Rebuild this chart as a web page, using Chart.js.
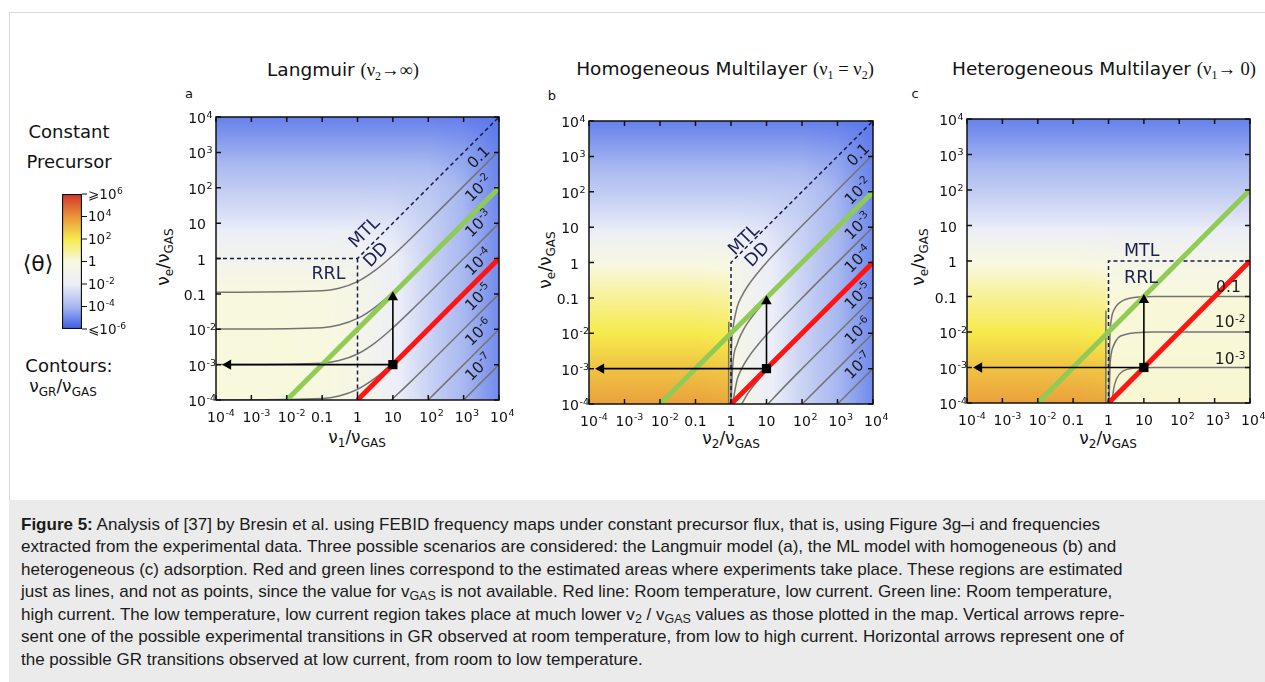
<!DOCTYPE html>
<html>
<head>
<meta charset="utf-8">
<script src="https://cdn.jsdelivr.net/npm/chart.js@4.4.1/dist/chart.umd.min.js"></script>
<style>
  body { margin: 0; width: 1265px; height: 682px; position: relative; background: #fff; overflow: hidden;
         font-family: "DejaVu Sans", Verdana, sans-serif; color: #111; }
  .abs { position: absolute; white-space: nowrap; }
  .c { transform: translate(-50%, -50%); }
  .rot { transform: translate(-50%, -50%) rotate(-90deg); }
  .serif { font-family: "Liberation Serif", "DejaVu Serif", serif; }
  sub { font-size: 12px; vertical-align: -4px; line-height: 0; }
  .title { font-size: 18.5px; }
  .axt { font-size: 17px; }
  .letter { font-size: 13px; }
  #frameTop { position: absolute; left: 9px; top: 12px; right: 0; height: 1px; background: #d9d9d9; }
  #frameLeft { position: absolute; left: 9px; top: 12px; width: 1px; bottom: 0; background: #d9d9d9; }
  #caption { position: absolute; left: 9px; top: 500px; width: 1256px; height: 182px; background: #ebebeb;
             font-family: "Liberation Sans", Arial, sans-serif; font-size: 17px; line-height: 22.5px;
             color: #1a1a1a; padding: 13.5px 0 0 12px; box-sizing: border-box; white-space: nowrap; }
  #caption sub { font-size: 12.5px; vertical-align: -3px; }
  canvas { position: absolute; }
</style>
</head>
<body>
<div id="frameTop"></div><div id="frameLeft"></div>

<div class="abs c" style="left:69px;top:131px;font-size:18px">Constant</div>
<div class="abs c" style="left:69px;top:161px;font-size:18px">Precursor</div>
<div class="abs c" style="left:38px;top:263px;font-size:22px">⟨θ⟩</div>
<div class="abs c" style="left:69px;top:365px;font-size:18px">Contours:</div>
<div class="abs c" style="left:63px;top:386px;font-size:17px">ν<sub>GR</sub>/ν<sub>GAS</sub></div>

<div class="abs c title" style="left:343px;top:70px">Langmuir <span class="serif">(ν<sub>2</sub>→∞)</span></div>
<div class="abs c title" style="left:725px;top:69px">Homogeneous Multilayer <span class="serif">(ν<sub>1</sub> = ν<sub>2</sub>)</span></div>
<div class="abs c title" style="left:1104px;top:69px">Heterogeneous Multilayer <span class="serif">(ν<sub>1</sub>→ 0)</span></div>

<div class="abs c letter" style="left:189px;top:93px">a</div>
<div class="abs c letter" style="left:552px;top:95px">b</div>
<div class="abs c letter" style="left:915px;top:93px">c</div>

<div class="abs c axt" style="left:357px;top:437px">ν<sub>1</sub>/ν<sub>GAS</sub></div>
<div class="abs c axt" style="left:731px;top:438px">ν<sub>2</sub>/ν<sub>GAS</sub></div>
<div class="abs c axt" style="left:1108px;top:438px">ν<sub>2</sub>/ν<sub>GAS</sub></div>
<div class="abs rot axt" style="left:163px;top:257px">ν<sub>e</sub>/ν<sub>GAS</sub></div>
<div class="abs rot axt" style="left:545px;top:260px">ν<sub>e</sub>/ν<sub>GAS</sub></div>
<div class="abs rot axt" style="left:918px;top:257px">ν<sub>e</sub>/ν<sub>GAS</sub></div>

<canvas id="bar" width="72" height="155" style="left:60px;top:184px"></canvas>
<canvas id="pa" width="351" height="339" style="left:166px;top:105px"></canvas>
<canvas id="pb" width="352" height="339" style="left:539px;top:109px"></canvas>
<canvas id="pc" width="351" height="340" style="left:917px;top:107px"></canvas>

<div id="caption"><b>Figure 5:</b> Analysis of [37] by Bresin et al. using FEBID frequency maps under constant precursor flux, that is, using Figure 3g–i and frequencies<br>extracted from the experimental data. Three possible scenarios are considered: the Langmuir model (a), the ML model with homogeneous (b) and<br>heterogeneous (c) adsorption. Red and green lines correspond to the estimated areas where experiments take place. These regions are estimated<br>just as lines, and not as points, since the value for v<sub>GAS</sub> is not available. Red line: Room temperature, low current. Green line: Room temperature,<br>high current. The low temperature, low current region takes place at much lower v<sub>2</sub> / v<sub>GAS</sub> values as those plotted in the map. Vertical arrows repre-<br>sent one of the possible experimental transitions in GR observed at room temperature, from low to high current. Horizontal arrows represent one of<br>the possible GR transitions observed at low current, from room to low temperature.</div>

<script>
// axis ticks (shared by all three maps): base text + superscript
const tickVals = [1e-4, 1e-3, 1e-2, 0.1, 1, 10, 100, 1e3, 1e4];
const tickBase = ["10", "10", "10", "0.1", "1", "10", "10", "10", "10"];
const tickSup = ["-4", "-3", "-2", "", "", "", "2", "3", "4"];

// colour bar, log10 <theta>
const barTicks = [-6, -4, -2, 0, 2, 4, 6];
const barBase = ["⩽10", "10", "10", "1", "10", "10", "⩾10"];
const barSup = ["-6", "-4", "-2", "", "2", "4", "6"];
const barStops = [[-6, "#3a5ce8"], [-4, "#a8b8f0"], [-2, "#eceef8"], [0, "#f8f8e0"], [2, "#f6ea4c"], [4, "#e8943a"], [6, "#d2352a"]];

// background maps: log10 <theta> read at grid nodes (rows: log y = 4 .. -4)
const heatLogY = [4, 3, 2, 1, 0, -1, -2, -3, -4];
const heatLogXA = [-4, -3, -2, -1, 0, 1, 2, 3, 4];
const heatA = [
  [-5.2, -5.2, -5.2, -5.2, -5.2, -5.2, -5.2, -5.25, -5.4],
  [-4.3, -4.3, -4.3, -4.3, -4.3, -4.3, -4.3, -4.5, -5.2],
  [-3.3, -3.3, -3.3, -3.3, -3.3, -3.3, -3.4, -4.1, -5.1],
  [-2.3, -2.3, -2.3, -2.3, -2.3, -2.4, -3.1, -4.0, -5.0],
  [-1.0, -1.0, -1.0, -1.0, -1.1, -1.9, -3.0, -4.0, -5.0],
  [0.0, 0.0, 0.0, -0.05, -0.5, -1.8, -3.0, -4.0, -5.0],
  [0.05, 0.05, 0.05, 0.0, -0.5, -1.8, -3.0, -4.0, -5.0],
  [0.05, 0.05, 0.05, 0.0, -0.5, -1.8, -3.0, -4.0, -5.0],
  [0.05, 0.05, 0.05, 0.0, -0.5, -1.8, -3.0, -4.0, -5.0],
];
const heatLogXBC = [-4, -2, -1, -0.08, 0.06, 1, 2, 3, 4];
const heatB = [
  [-5.2, -5.2, -5.2, -5.2, -5.2, -5.2, -5.2, -5.25, -5.4],
  [-4.3, -4.3, -4.3, -4.3, -4.3, -4.3, -4.3, -4.5, -5.2],
  [-3.3, -3.3, -3.3, -3.3, -3.3, -3.3, -3.4, -4.1, -5.1],
  [-2.2, -2.2, -2.2, -2.2, -2.2, -2.4, -3.1, -4.0, -5.0],
  [-0.1, -0.1, -0.1, -0.2, -0.8, -1.9, -3.0, -4.0, -5.0],
  [1.0, 1.0, 1.0, 0.9, -0.5, -1.8, -3.0, -4.0, -5.0],
  [2.0, 2.0, 2.0, 1.9, -0.4, -1.8, -3.0, -4.0, -5.0],
  [2.9, 2.9, 2.9, 2.8, -0.3, -1.8, -3.0, -4.0, -5.0],
  [3.7, 3.7, 3.7, 3.6, -0.2, -1.8, -3.0, -4.0, -5.0],
];
const heatC = [
  [-5.2, -5.2, -5.2, -5.2, -5.2, -5.2, -5.2, -5.2, -5.2],
  [-4.3, -4.3, -4.3, -4.3, -4.3, -4.3, -4.3, -4.3, -4.3],
  [-3.3, -3.3, -3.3, -3.3, -3.3, -3.3, -3.3, -3.3, -3.3],
  [-2.2, -2.2, -2.2, -2.2, -2.2, -2.2, -2.2, -2.2, -2.2],
  [-0.1, -0.1, -0.1, -0.2, -0.5, -0.6, -0.6, -0.6, -0.6],
  [1.0, 1.0, 1.0, 0.9, 0.1, 0.1, 0.1, 0.1, 0.1],
  [2.0, 2.0, 2.0, 1.9, 0.12, 0.12, 0.12, 0.12, 0.12],
  [2.9, 2.9, 2.9, 2.8, 0.15, 0.15, 0.15, 0.15, 0.15],
  [3.7, 3.7, 3.7, 3.6, 0.2, 0.2, 0.2, 0.2, 0.2],
];

// experiment lines and transitions (same in a, b, c)
const greenLine = [[1e-2, 1e-4], [1e4, 1e2]];
const redLine = [[1, 1e-4], [1e4, 1]];
const vArrow = [[10, 1e-3], [10, 0.08]];
const hArrow = [[10, 1e-3], [2.2e-4, 1e-3]];
const marker = [[10, 1e-3]];

// regime boundaries
const dashA = [[[1e-4, 1], [1, 1], [1e4, 1e4]], [[1, 1], [1, 1e-4]]];
const dashB = [[[1, 1e-4], [1, 1], [1e4, 1e4]]];
const dashC = [[[1, 1e-4], [1, 1], [1e4, 1]]];

// contours nu_GR / nu_GAS
const contA = [
  [[1e-4, 0.111], [0.1, 0.122], [0.3, 0.144], [1, 0.222], [3, 0.444], [10, 1.22], [30, 3.44], [100, 11.2], [1e4, 1111]],
  [[1e-4, 0.0101], [0.1, 0.0111], [0.3, 0.0131], [1, 0.0202], [3, 0.0404], [10, 0.111], [30, 0.313], [100, 1.02], [1e4, 101]],
  [[1e-4, 0.001], [0.1, 0.0011], [0.3, 0.0013], [1, 0.002], [3, 0.004], [10, 0.011], [30, 0.031], [100, 0.101], [1e4, 10]],
  [[1e-4, 1e-4], [0.1, 1.1e-4], [0.3, 1.3e-4], [1, 2e-4], [3, 4e-4], [10, 1.1e-3], [30, 3.1e-3], [100, 0.0101], [1e4, 1]],
  [[9, 1e-4], [10, 1.1e-4], [30, 3.1e-4], [100, 1.01e-3], [1e4, 0.1]],
  [[99, 1e-4], [300, 3e-4], [1e4, 1e-2]],
  [[999, 1e-4], [1e4, 1e-3]],
];
const contB = [
  [[0.86, 1e-4], [0.862, 3e-3], [0.87, 0.021]],
  [[1.001, 1e-4], [1.01, 1.1e-3], [1.1, 0.011], [1.5, 0.056], [2, 0.11], [3, 0.22], [10, 1], [30, 3.2], [100, 11], [1e4, 1111]],
  [[1.01, 1e-4], [1.1, 1e-3], [1.5, 5e-3], [2, 0.0101], [3, 0.0202], [10, 0.091], [100, 1], [1e4, 101]],
  [[1.1, 1e-4], [1.5, 5e-4], [2, 1e-3], [3, 2e-3], [10, 9e-3], [100, 0.099], [1e4, 10]],
  [[2, 1e-4], [3, 2e-4], [10, 9e-4], [100, 9.9e-3], [1e4, 1]],
  [[11, 1e-4], [30, 2.9e-4], [100, 9.9e-4], [1e4, 0.1]],
  [[101, 1e-4], [1e4, 1e-2]],
  [[1001, 1e-4], [1e4, 1e-3]],
];
const contC = [
  [[0.84, 1e-4], [0.842, 1e-2], [0.85, 0.04]],
  [[1.035, 1e-4], [1.05, 1e-3], [1.1, 8e-3], [1.2, 0.022], [1.5, 0.046], [2, 0.065], [3, 0.082], [6, 0.095], [20, 0.1], [1e4, 0.1]],
  [[1.04, 1e-4], [1.1, 1e-3], [1.2, 2.5e-3], [1.4, 4.2e-3], [1.9, 7e-3], [3, 8.5e-3], [6, 9.5e-3], [20, 1e-2], [1e4, 1e-2]],
  [[1.25, 1e-4], [1.4, 2.5e-4], [1.7, 4.9e-4], [2.6, 8e-4], [5, 9.5e-4], [20, 1e-3], [1e4, 1e-3]],
];

// text inside the maps: [text, superscript, log x, log y, rotation, kind]
const notesA = [
  ["MTL", "", 0.17, 0.76, -45, "reg"], ["DD", "", 0.5, 0.13, -45, "reg"], ["RRL", "", -0.82, -0.4, 0, "reg"],
  ["0.1", "", 3.41, 2.88, -45, "c"], ["10", "-2", 3.41, 2.0, -45, "c"], ["10", "-3", 3.41, 1.0, -45, "c"],
  ["10", "-4", 3.41, -0.08, -45, "c"], ["10", "-5", 3.41, -1.08, -45, "c"], ["10", "-6", 3.41, -2.07, -45, "c"],
  ["10", "-7", 3.41, -3.06, -45, "c"],
];
const notesB = [
  ["MTL", "", 0.34, 0.67, -45, "reg"], ["DD", "", 0.72, 0.25, -45, "reg"],
  ["0.1", "", 3.57, 3.06, -45, "c"], ["10", "-2", 3.57, 2.03, -45, "c"], ["10", "-3", 3.57, 1.04, -45, "c"],
  ["10", "-4", 3.57, 0.11, -45, "c"], ["10", "-5", 3.57, -0.93, -45, "c"], ["10", "-6", 3.57, -1.92, -45, "c"],
  ["10", "-7", 3.57, -2.9, -45, "c"],
];
const notesC = [
  ["MTL", "", 0.94, 0.33, 0, "reg"], ["RRL", "", 0.92, -0.44, 0, "reg"],
  ["0.1", "", 3.39, -0.7, 0, "c"], ["10", "-2", 3.44, -1.71, 0, "c"], ["10", "-3", 3.44, -2.75, 0, "c"],
];

const xy = (arr) => arr.map(([x, y]) => ({ x, y }));

const hexRgb = (h) => [1, 3, 5].map((i) => parseInt(h.slice(i, i + 2), 16));
const stopsRgb = barStops.map(([v, c]) => [v, hexRgb(c)]);
const colorFor = (v) => {
  if (v <= stopsRgb[0][0]) return stopsRgb[0][1];
  for (let k = 0; k < stopsRgb.length - 1; k++) {
    const [v0, c0] = stopsRgb[k], [v1, c1] = stopsRgb[k + 1];
    if (v <= v1) {
      const t = (v - v0) / (v1 - v0);
      return c0.map((c, i) => c + (c1[i] - c) * t);
    }
  }
  return stopsRgb[stopsRgb.length - 1][1];
};

const locate = (nodes, v) => {
  const n = nodes.length;
  const asc = nodes[n - 1] > nodes[0];
  for (let k = 0; k < n - 1; k++) {
    const a = nodes[k], b = nodes[k + 1];
    if ((asc && v >= a && v <= b) || (!asc && v <= a && v >= b)) return [k, (v - a) / (b - a)];
  }
  const first = asc ? v < nodes[0] : v > nodes[0];
  return first ? [0, 0] : [n - 2, 1];
};

// "10" + raised exponent; align applies to the base text only, "whole" centres base+exponent
const drawSup = (ctx, base, sup, x, y, size, align) => {
  ctx.font = `${size}px 'DejaVu Sans'`;
  const bw = ctx.measureText(base).width;
  ctx.font = `${size * 0.68}px 'DejaVu Sans'`;
  const sw = sup ? ctx.measureText(sup).width + 0.5 : 0;
  let x0 = x;
  if (align === "center") x0 = x - bw / 2;
  else if (align === "right") x0 = x - bw;
  else if (align === "whole") x0 = x - (bw + sw) / 2;
  const by = y + size * 0.365;
  ctx.textAlign = "left";
  ctx.textBaseline = "alphabetic";
  ctx.font = `${size}px 'DejaVu Sans'`;
  ctx.fillText(base, x0, by);
  if (sup) {
    ctx.font = `${size * 0.68}px 'DejaVu Sans'`;
    ctx.fillText(sup, x0 + bw + 0.5, by - size * 0.37);
  }
};

const makeHeat = (logXs, logYs, grid) => {
  let img = null;
  return {
    id: "heat",
    beforeDatasetsDraw(chart) {
      const { ctx, chartArea: a, scales } = chart;
      const w = Math.round(a.right - a.left), h = Math.round(a.bottom - a.top);
      if (!img) {
        img = document.createElement("canvas");
        img.width = w; img.height = h;
        const octx = img.getContext("2d");
        const im = octx.createImageData(w, h);
        for (let j = 0; j < h; j++) {
          const ly = Math.log10(scales.y.getValueForPixel(a.top + j + 0.5));
          const [r, tr] = locate(logYs, ly);
          for (let i = 0; i < w; i++) {
            const lx = Math.log10(scales.x.getValueForPixel(a.left + i + 0.5));
            const [c, tc] = locate(logXs, lx);
            const v00 = grid[r][c], v01 = grid[r][c + 1], v10 = grid[r + 1][c], v11 = grid[r + 1][c + 1];
            const v = (v00 * (1 - tc) + v01 * tc) * (1 - tr) + (v10 * (1 - tc) + v11 * tc) * tr;
            const col = colorFor(v);
            const p = (j * w + i) * 4;
            im.data[p] = col[0]; im.data[p + 1] = col[1]; im.data[p + 2] = col[2]; im.data[p + 3] = 255;
          }
        }
        octx.putImageData(im, 0, 0);
      }
      ctx.drawImage(img, a.left, a.top);
    },
  };
};

const makeNotes = (notes) => ({
  id: "notes",
  afterDatasetsDraw(chart) {
    const { ctx, scales } = chart;
    notes.forEach(([t, sup, lx, ly, rot, kind]) => {
      const px = scales.x.getPixelForValue(10 ** lx), py = scales.y.getPixelForValue(10 ** ly);
      ctx.save();
      ctx.translate(px, py);
      ctx.rotate((rot * Math.PI) / 180);
      ctx.fillStyle = kind === "reg" ? "#1c2050" : "#1a1a1a";
      drawSup(ctx, t, sup, 0, 0, kind === "reg" ? 17.5 : 15.5, "whole");
      ctx.restore();
    });
  },
});

// frame, inward ticks and tick labels
const frame = {
  id: "frame",
  afterDraw(chart) {
    const { ctx, chartArea: a, scales: { x, y } } = chart;
    ctx.save();
    ctx.strokeStyle = "#111";
    ctx.lineWidth = 1.5;
    ctx.beginPath();
    tickVals.forEach((v) => {
      const px = x.getPixelForValue(v), py = y.getPixelForValue(v);
      ctx.moveTo(px, a.bottom); ctx.lineTo(px, a.bottom - 5);
      ctx.moveTo(px, a.top); ctx.lineTo(px, a.top + 5);
      ctx.moveTo(a.left, py); ctx.lineTo(a.left + 5, py);
      ctx.moveTo(a.right, py); ctx.lineTo(a.right - 5, py);
    });
    ctx.stroke();
    ctx.strokeRect(a.left, a.top, a.right - a.left, a.bottom - a.top);
    ctx.fillStyle = "#111";
    tickVals.forEach((v, i) => {
      drawSup(ctx, tickBase[i], tickSup[i], x.getPixelForValue(v), a.bottom + 16.5, 14, "center");
      drawSup(ctx, tickBase[i], tickSup[i], a.left - 10, y.getPixelForValue(v) + 1, 14, "right");
    });
    ctx.restore();
  },
};

const lineSet = (pts, color, width, extra = {}) => ({
  data: xy(pts), borderColor: color, borderWidth: width, pointRadius: 0,
  cubicInterpolationMode: "monotone", fill: false, ...extra,
});

const panel = (id, heat, dashes, contours, notes) => {
  const datasets = [
    lineSet(marker, "#000", 0, { pointStyle: "rect", pointRadius: 6.5, pointBackgroundColor: "#000", pointBorderWidth: 0, showLine: false }),
    lineSet(vArrow, "#000", 1.6, { pointStyle: "triangle", pointRadius: [0, 6], pointRotation: 0, pointBackgroundColor: "#000", pointBorderWidth: 0 }),
    lineSet(hArrow, "#000", 1.6, { pointStyle: "triangle", pointRadius: [0, 6], pointRotation: -90, pointBackgroundColor: "#000", pointBorderWidth: 0 }),
    lineSet(redLine, "#ff1414", 5),
    lineSet(greenLine, "#8fcb55", 5),
    ...dashes.map((d) => lineSet(d, "#151a4a", 1.5, { borderDash: [4, 3], cubicInterpolationMode: "default", tension: 0 })),
    ...contours.map((c) => lineSet(c, "#747474", 1.5)),
  ];
  const axis = (fit) => ({
    type: "logarithmic", min: 1e-4, max: 1e4,
    afterBuildTicks: (s) => { s.ticks = tickVals.map((value) => ({ value })); },
    afterFit: fit,
    grid: { display: false, drawTicks: false },
    border: { display: false },
    ticks: { display: false },
  });
  return new Chart(document.getElementById(id), {
    type: "line",
    data: { datasets },
    options: {
      responsive: false,
      animation: false,
      events: [],
      layout: { autoPadding: false, padding: { left: 0, top: 12, right: 18, bottom: 0 } },
      plugins: { legend: { display: false }, tooltip: { enabled: false } },
      scales: {
        x: axis((s) => { s.height = 44; }),
        y: axis((s) => { s.width = 50; }),
      },
    },
    plugins: [heat, makeNotes(notes), frame],
  });
};

panel("pa", makeHeat(heatLogXA, heatLogY, heatA), dashA, contA, notesA);
panel("pb", makeHeat(heatLogXBC, heatLogY, heatB), dashB, contB, notesB);
panel("pc", makeHeat(heatLogXBC, heatLogY, heatC), dashC, contC, notesC);

// colour bar
const barLabelsPlugin = {
  id: "barLabels",
  afterDraw(chart) {
    const { ctx, chartArea: a, scales: { y } } = chart;
    ctx.save();
    ctx.strokeStyle = "#111";
    ctx.lineWidth = 1.2;
    ctx.beginPath();
    barTicks.forEach((v) => {
      const py = y.getPixelForValue(v);
      ctx.moveTo(a.right, py); ctx.lineTo(a.right + 5, py);
    });
    ctx.stroke();
    ctx.fillStyle = "#111";
    barTicks.forEach((v, i) => drawSup(ctx, barBase[i], barSup[i], a.right + 6, y.getPixelForValue(v), 13.5, "left"));
    ctx.restore();
  },
};

new Chart(document.getElementById("bar"), {
  type: "bar",
  data: {
    labels: ["θ"],
    datasets: [{
      data: [[-6, 6]],
      backgroundColor: (c) => {
        const a = c.chart.chartArea;
        if (!a) return "#fff";
        const g = c.chart.ctx.createLinearGradient(0, a.bottom, 0, a.top);
        barStops.forEach(([v, col]) => g.addColorStop((v + 6) / 12, col));
        return g;
      },
      borderColor: "#111", borderWidth: 1.5, borderSkipped: false,
      barPercentage: 1, categoryPercentage: 1,
    }],
  },
  options: {
    responsive: false,
    animation: false,
    events: [],
    layout: { autoPadding: false, padding: { left: 2, top: 10, right: 0, bottom: 10 } },
    plugins: { legend: { display: false }, tooltip: { enabled: false } },
    scales: {
      x: { display: false },
      y: {
        position: "right", min: -6, max: 6,
        afterBuildTicks: (s) => { s.ticks = barTicks.map((value) => ({ value })); },
        afterFit: (s) => { s.width = 50; },
        grid: { display: false },
        border: { display: false },
        ticks: { display: false },
      },
    },
  },
  plugins: [barLabelsPlugin],
});
</script>
</body>
</html>
